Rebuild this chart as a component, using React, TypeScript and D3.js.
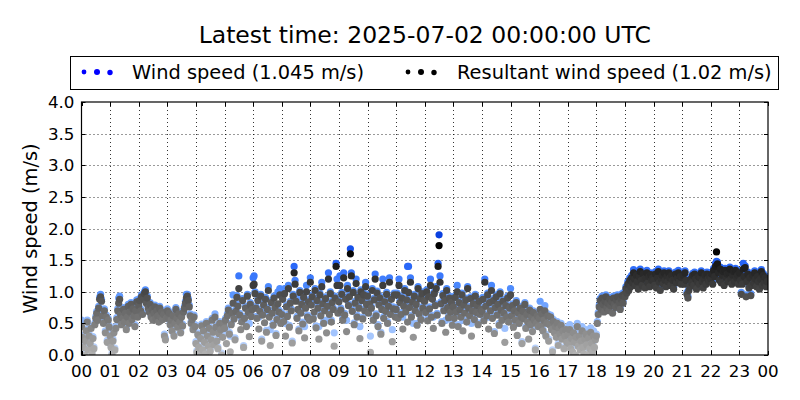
import React from "react";
import * as d3 from "d3";

const titleText = "Latest time: 2025-07-02 00:00:00 UTC";
const hourLabels = ["00","01","02","03","04","05","06","07","08","09","10","11","12","13","14","15","16","17","18","19","20","21","22","23","00"];
const yTicks = [0, 0.5, 1.0, 1.5, 2.0, 2.5, 3.0, 3.5, 4.0];
const windSpeedMean = 1.045;
const resultantMean = 1.02;

// 30 samples per hour (2-minute steps), hours 00..23
const windSpeed: number[][] = [
  [0.55,0.31,0.15,0.03,0.25,0.41,0.55,0.11,0.33,0.21,0.45,0.05,0.29,0.13,0.51,0.61,0.69,0.58,0.77,0.91,0.96,0.88,0.65,0.53,0.73,0.38,0.63,0.23,0.58,0.47],
  [0.33,0.15,0.03,0.25,0.38,0.11,0.45,0.59,0.73,0.9,0.93,0.67,0.51,0.61,0.75,0.55,0.69,0.43,0.63,0.8,0.53,0.71,0.83,0.59,0.76,0.65,0.48,0.73,0.87,0.63],
  [0.81,0.89,0.73,0.95,0.67,0.91,1.0,1.03,0.85,0.93,0.77,0.71,0.83,0.63,0.75,0.58,0.69,0.79,0.61,0.73,0.65,0.55,0.77,0.63,0.71,0.59,0.67,0.33,0.27,0.61],
  [0.73,0.63,0.69,0.51,0.58,0.41,0.65,0.33,0.53,0.75,0.61,0.47,0.68,0.55,0.38,0.63,0.49,0.71,0.77,0.85,0.96,0.96,0.89,0.79,0.65,0.53,0.59,0.43,0.63,0.48],
  [0.21,0.07,0.35,0.15,0.03,0.29,0.49,0.11,0.41,0.23,0.05,0.53,0.33,0.17,0.45,0.09,0.27,0.58,0.39,0.19,0.65,0.47,0.25,0.13,0.37,0.53,0.43,0.03,0.31,0.51],
  [0.45,0.58,0.4,0.65,0.74,0.36,0.3,0.51,0.69,0.95,0.6,0.27,0.72,0.94,0.8,1.25,0.66,0.6,0.55,0.89,0.15,0.61,0.77,0.48,0.96,0.7,0.5,0.83,0.64,0.75],
  [1.22,1.25,1.0,0.77,0.61,0.89,0.6,0.72,0.96,0.25,0.66,0.82,0.7,0.91,0.39,0.75,1.08,0.63,0.4,0.86,0.69,0.5,0.93,0.78,0.34,0.59,1.0,0.71,1.05,0.53],
  [0.67,0.91,0.56,1.05,0.5,0.79,0.64,1.1,0.47,0.85,0.73,0.22,0.96,1.4,1.18,0.88,0.61,0.9,0.41,1.02,0.69,0.83,0.52,0.94,0.45,0.77,1.1,0.63,0.87,0.58],
  [1.22,0.82,0.95,0.6,0.85,1.05,0.46,0.89,0.77,0.45,0.98,0.65,1.15,0.84,0.53,0.73,0.92,0.55,0.8,1.3,0.67,1.0,0.55,0.86,0.75,0.35,0.93,1.45,1.2,0.69],
  [0.87,1.25,0.74,0.99,0.58,1.3,0.66,0.91,0.55,1.1,0.81,0.95,1.68,1.3,0.72,1.02,0.51,0.85,1.2,0.63,0.94,0.77,0.45,1.03,0.89,0.6,0.98,0.73,1.15,0.83],
  [0.96,0.69,0.84,0.3,0.77,1.05,0.58,0.9,1.28,0.65,1.01,0.48,0.82,0.93,0.36,0.75,1.2,0.61,0.87,0.72,0.99,0.53,0.8,1.22,0.67,0.91,0.4,0.76,0.98,0.63],
  [0.75,0.98,0.61,1.2,0.86,0.67,0.93,0.6,0.8,1.05,0.71,0.9,1.4,1.4,0.78,1.22,0.63,0.87,0.5,0.96,0.73,0.83,0.5,1.08,0.68,0.92,0.59,1.0,0.77,0.89],
  [0.88,0.7,1.03,0.57,0.95,0.76,1.2,0.63,0.91,0.6,1.0,0.81,1.08,0.66,1.45,1.9,1.25,0.84,0.53,0.97,0.73,0.89,0.55,1.05,0.78,0.62,0.93,0.71,0.86,0.5],
  [0.79,0.61,0.94,0.71,1.1,0.48,0.86,0.75,0.63,0.98,0.55,0.82,0.69,0.9,0.55,1.08,0.77,0.65,0.92,0.5,0.73,0.84,0.59,0.96,0.7,0.81,0.51,0.88,0.67,0.75],
  [0.72,0.91,0.57,1.2,0.8,0.65,0.98,0.6,0.86,0.73,1.1,0.61,0.89,0.37,0.78,0.95,0.66,0.83,0.5,1.0,0.74,0.58,0.88,0.69,0.42,0.81,0.63,0.93,0.55,0.77],
  [1.05,0.65,0.81,0.47,0.73,0.58,0.86,0.5,0.69,0.53,0.77,0.63,0.21,0.72,0.6,0.83,0.45,0.67,0.55,0.45,0.74,0.51,0.63,0.4,0.7,0.58,0.11,0.53,0.65,0.48],
  [0.61,0.85,0.49,0.68,0.41,0.58,0.78,0.33,0.53,0.65,0.25,0.51,0.63,0.43,0.08,0.56,0.38,0.48,0.31,0.53,0.18,0.45,0.36,0.5,0.28,0.41,0.13,0.33,0.43,0.23],
  [0.4,0.28,0.48,0.22,0.35,0.18,0.42,0.3,0.15,0.36,0.5,0.25,0.38,0.2,0.3,0.45,0.24,0.15,0.33,0.4,0.26,0.12,0.35,0.22,0.43,0.28,0.18,0.38,0.24,0.32],
  [0.33,0.53,0.67,0.79,0.89,0.75,0.93,0.83,0.71,0.88,0.95,0.77,0.85,0.73,0.91,0.81,0.87,0.69,0.93,0.83,0.78,0.9,0.95,0.81,0.86,0.75,0.91,0.97,0.85,0.99],
  [0.95,1.08,1.0,1.16,1.05,1.22,1.1,1.26,1.17,1.35,1.22,1.13,1.3,1.18,1.07,1.27,1.36,1.2,1.13,1.31,1.23,1.09,1.25,1.34,1.17,1.27,1.11,1.3,1.2,1.25],
  [1.21,1.13,1.32,1.09,1.25,1.36,1.18,1.05,1.23,1.3,1.15,1.33,1.21,1.11,1.27,1.19,1.33,1.25,1.13,1.29,1.21,1.07,1.23,1.31,1.17,1.25,1.34,1.19,1.27,1.15],
  [1.25,1.29,1.15,1.33,1.21,0.99,0.93,1.05,1.11,1.23,1.17,1.29,1.13,1.31,1.23,1.07,1.19,1.27,1.15,1.25,1.33,1.19,1.09,1.23,1.29,1.15,1.31,1.23,1.19,1.27],
  [1.23,1.31,1.15,1.37,1.27,1.45,1.48,1.47,1.33,1.21,1.39,1.17,1.29,1.35,1.13,1.37,1.25,1.31,1.19,1.33,1.39,1.23,1.15,1.29,1.35,1.19,1.37,1.25,1.29,1.15],
  [1.33,1.21,0.99,1.15,1.45,1.27,1.41,0.95,1.19,1.31,1.09,1.25,0.97,1.13,1.29,1.17,1.33,1.23,1.11,1.27,1.19,1.07,1.23,1.35,1.13,1.29,1.17,1.25,1.11,1.19],
];

const resultant: number[][] = [
  [0.45,0.28,0.12,0.0,0.22,0.38,0.52,0.08,0.3,0.18,0.42,0.02,0.26,0.1,0.48,0.58,0.66,0.55,0.74,0.88,0.92,0.85,0.62,0.5,0.7,0.35,0.6,0.2,0.55,0.44],
  [0.3,0.12,0.0,0.22,0.35,0.08,0.42,0.56,0.7,0.82,0.88,0.64,0.48,0.58,0.72,0.52,0.66,0.4,0.6,0.77,0.5,0.68,0.8,0.56,0.73,0.62,0.45,0.7,0.84,0.6],
  [0.78,0.86,0.7,0.92,0.64,0.88,0.97,1.0,0.82,0.9,0.74,0.68,0.8,0.6,0.72,0.55,0.66,0.76,0.58,0.7,0.62,0.52,0.74,0.6,0.68,0.56,0.64,0.3,0.24,0.58],
  [0.7,0.6,0.66,0.48,0.55,0.38,0.62,0.3,0.5,0.72,0.58,0.44,0.65,0.52,0.35,0.6,0.46,0.68,0.74,0.82,0.9,0.93,0.86,0.76,0.62,0.5,0.56,0.4,0.6,0.45],
  [0.18,0.04,0.32,0.12,0.0,0.26,0.46,0.08,0.38,0.2,0.02,0.5,0.3,0.14,0.42,0.06,0.24,0.55,0.36,0.16,0.6,0.44,0.22,0.1,0.34,0.5,0.4,0.0,0.28,0.48],
  [0.42,0.55,0.18,0.62,0.71,0.33,0.05,0.48,0.66,0.82,0.57,0.24,0.69,0.91,0.77,1.05,0.63,0.4,0.52,0.86,0.12,0.58,0.74,0.45,0.93,0.67,0.29,0.8,0.61,0.72],
  [1.1,1.12,0.97,0.74,0.58,0.86,0.41,0.69,0.93,0.22,0.63,0.79,0.51,0.88,0.36,0.72,1.02,0.6,0.15,0.83,0.66,0.47,0.9,0.75,0.31,0.56,0.81,0.68,0.95,0.5],
  [0.64,0.88,0.53,0.97,0.3,0.76,0.61,1.05,0.44,0.82,0.7,0.19,0.93,1.3,1.12,0.85,0.58,0.72,0.38,0.99,0.66,0.8,0.49,0.91,0.27,0.74,1.0,0.6,0.84,0.55],
  [1.15,0.79,0.92,0.57,0.68,1.02,0.43,0.86,0.74,0.25,0.95,0.62,1.08,0.81,0.5,0.7,0.89,0.35,0.77,1.2,0.64,0.97,0.52,0.83,0.72,0.14,0.9,1.4,1.1,0.66],
  [0.84,1.1,0.71,0.96,0.55,1.22,0.63,0.88,0.37,1.05,0.78,0.92,1.6,1.25,0.69,0.99,0.48,0.82,1.13,0.6,0.91,0.74,0.26,1.0,0.86,0.57,0.95,0.7,1.08,0.8],
  [0.93,0.66,0.81,0.04,0.74,1.02,0.55,0.87,1.2,0.62,0.98,0.45,0.79,0.9,0.33,0.72,1.1,0.58,0.84,0.69,0.96,0.5,0.77,1.15,0.64,0.88,0.21,0.73,0.95,0.6],
  [0.72,0.95,0.58,1.1,0.83,0.64,0.9,0.41,0.77,1.02,0.68,0.87,0.52,0.99,0.75,1.15,0.6,0.84,0.28,0.93,0.7,0.8,0.47,1.05,0.65,0.89,0.56,0.97,0.74,0.86],
  [0.85,0.67,1.0,0.54,0.92,0.73,1.1,0.6,0.88,0.42,0.97,0.78,1.05,0.63,1.4,1.73,1.15,0.81,0.5,0.94,0.7,0.86,0.36,1.02,0.75,0.59,0.9,0.68,0.83,0.47],
  [0.76,0.58,0.91,0.68,1.0,0.45,0.83,0.72,0.6,0.95,0.38,0.79,0.66,0.87,0.52,1.05,0.74,0.62,0.89,0.3,0.7,0.81,0.56,0.93,0.67,0.78,0.48,0.85,0.64,0.72],
  [0.69,0.88,0.54,1.15,0.77,0.62,0.95,0.41,0.83,0.7,1.02,0.58,0.86,0.34,0.75,0.92,0.63,0.8,0.47,0.97,0.71,0.55,0.85,0.66,0.2,0.78,0.6,0.9,0.52,0.74],
  [0.95,0.62,0.78,0.44,0.7,0.55,0.83,0.31,0.66,0.5,0.74,0.6,0.18,0.69,0.57,0.8,0.42,0.64,0.52,0.25,0.71,0.48,0.6,0.37,0.67,0.55,0.08,0.5,0.62,0.45],
  [0.58,0.72,0.46,0.65,0.38,0.55,0.7,0.3,0.5,0.62,0.22,0.48,0.6,0.4,0.05,0.53,0.35,0.45,0.28,0.5,0.15,0.42,0.33,0.47,0.25,0.38,0.1,0.3,0.4,0.2],
  [0.32,0.18,0.4,0.1,0.26,0.05,0.35,0.2,0.0,0.28,0.45,0.14,0.3,0.08,0.22,0.38,0.12,0.02,0.25,0.33,0.16,0.0,0.27,0.1,0.36,0.19,0.05,0.3,0.12,0.24],
  [0.3,0.5,0.64,0.76,0.86,0.72,0.9,0.8,0.68,0.85,0.92,0.74,0.82,0.7,0.88,0.78,0.84,0.66,0.9,0.8,0.75,0.87,0.92,0.78,0.83,0.72,0.88,0.94,0.82,0.96],
  [0.92,1.05,0.98,1.12,1.02,1.18,1.08,1.22,1.14,1.3,1.2,1.1,1.26,1.16,1.04,1.24,1.32,1.18,1.1,1.28,1.2,1.06,1.22,1.3,1.14,1.24,1.08,1.27,1.18,1.22],
  [1.18,1.1,1.28,1.06,1.22,1.32,1.15,1.02,1.2,1.26,1.12,1.3,1.18,1.08,1.24,1.16,1.3,1.22,1.1,1.26,1.18,1.04,1.2,1.28,1.14,1.22,1.3,1.16,1.24,1.12],
  [1.22,1.26,1.12,1.3,1.18,0.96,0.9,1.02,1.08,1.2,1.14,1.26,1.1,1.28,1.2,1.04,1.16,1.24,1.12,1.22,1.3,1.16,1.06,1.2,1.26,1.12,1.28,1.2,1.16,1.24],
  [1.2,1.28,1.12,1.34,1.24,1.4,1.63,1.44,1.3,1.18,1.36,1.14,1.26,1.32,1.1,1.34,1.22,1.28,1.16,1.3,1.36,1.2,1.12,1.26,1.32,1.16,1.34,1.22,1.26,1.12],
  [1.3,1.18,0.96,1.12,1.36,1.24,1.38,0.92,1.16,1.28,1.06,1.22,0.94,1.1,1.26,1.14,1.3,1.2,1.08,1.24,1.16,1.04,1.2,1.32,1.1,1.26,1.14,1.22,1.08,1.16],
];

const W = 800, H = 400;
const left = 81.5, right = 768, top = 102, bottom = 355;

const x = d3.scaleLinear().domain([0, 24]).range([left, right]);
const y = d3.scaleLinear().domain([0, 4]).range([bottom, top]);

const grayColor = (v: number) => {
  const a = Math.min(1, 0.3 + 0.42 * v);
  const g = Math.round(255 * (1 - a));
  return d3.rgb(g, g, g).formatHex();
};
const blueColor = d3.scaleLinear<string>()
  .domain([0, 0.5, 1.0, 1.4, 1.9])
  .range(["#c4d8fb", "#94bcff", "#5592ff", "#2a68f8", "#0a40e0"])
  .interpolate(d3.interpolateRgb)
  .clamp(true);

function toPoints(series: number[][]) {
  const pts: { t: number; v: number }[] = [];
  series.forEach((hour, h) => {
    hour.forEach((v, i) => pts.push({ t: h + i / hour.length, v }));
  });
  return pts;
}

export default function App() {
  const wsPts = toPoints(windSpeed);
  const rsPts = toPoints(resultant);
  const font = "DejaVu Sans, sans-serif";
  const hours = d3.range(0, 25);
  return (
    <svg width={W} height={H} style={{ position: "absolute", left: 0, top: 0, background: "#fff" }} fontFamily={font}>
      <rect x={0} y={0} width={W} height={H} fill="#fff" />
      <text x={(left + right) / 2} y={43} textAnchor="middle" fontSize={23.5} fill="#000">{titleText}</text>

      <defs>
        <clipPath id="plotclip">
          <rect x={left} y={top} width={right - left} height={bottom - top} />
        </clipPath>
      </defs>

      {/* grid */}
      <g stroke="#000" strokeWidth={0.8} strokeDasharray="1,3">
        {hours.slice(1, 24).map((h) => (
          <line key={"gx" + h} x1={Math.round(x(h)) + 0.5} x2={Math.round(x(h)) + 0.5} y1={top} y2={bottom} />
        ))}
        {yTicks.slice(1, -1).map((v) => (
          <line key={"gy" + v} x1={left} x2={right} y1={Math.round(y(v)) + 0.5} y2={Math.round(y(v)) + 0.5} />
        ))}
      </g>

      <g clipPath="url(#plotclip)">
        {wsPts.map((p, i) => (
          <circle key={"w" + i} cx={x(p.t)} cy={y(p.v)} r={3.6} fill={blueColor(p.v)} />
        ))}
        {rsPts.map((p, i) => (
          <circle key={"r" + i} cx={x(p.t)} cy={y(p.v)} r={3.6} fill={grayColor(p.v)} />
        ))}
      </g>

      {/* ticks inward */}
      <g stroke="#000" strokeWidth={1}>
        {hours.map((h) => (
          <g key={"tx" + h}>
            <line x1={Math.round(x(h)) + 0.5} x2={Math.round(x(h)) + 0.5} y1={bottom} y2={bottom - 4} />
            <line x1={Math.round(x(h)) + 0.5} x2={Math.round(x(h)) + 0.5} y1={top} y2={top + 4} />
          </g>
        ))}
        {yTicks.map((v) => (
          <g key={"ty" + v}>
            <line x1={left} x2={left + 4} y1={Math.round(y(v)) + 0.5} y2={Math.round(y(v)) + 0.5} />
            <line x1={right} x2={right - 4} y1={Math.round(y(v)) + 0.5} y2={Math.round(y(v)) + 0.5} />
          </g>
        ))}
      </g>
      <rect x={left} y={top} width={right - left} height={bottom - top} fill="none" stroke="#000" strokeWidth={1.2} />

      {/* tick labels */}
      <g fontSize={16.7} fill="#000">
        {hourLabels.map((lab, i) => (
          <text key={"lx" + i} x={x(i)} y={377} textAnchor="middle">{lab}</text>
        ))}
        {yTicks.map((v) => (
          <text key={"ly" + v} x={left - 7} y={y(v) + 6} textAnchor="end">{v.toFixed(1)}</text>
        ))}
      </g>

      <text transform={`translate(37,${(top + bottom) / 2}) rotate(-90)`} textAnchor="middle" fontSize={19.4} fill="#000">Wind speed (m/s)</text>

      {/* legend */}
      <rect x={70.5} y={56.5} width={708} height={33} fill="#fff" stroke="#000" strokeWidth={1} />
      <circle cx={84} cy={72} r={2.4} fill="#0000ff" />
      <circle cx={97} cy={72} r={3} fill="#0000ff" />
      <circle cx={110} cy={72.5} r={2.7} fill="#0000ff" />
      <text x={132} y={79} fontSize={19.4} fill="#000">{`Wind speed (${windSpeedMean} m/s)`}</text>
      <circle cx={408} cy={72} r={2.4} fill="#000" />
      <circle cx={421} cy={72} r={3} fill="#000" />
      <circle cx={434} cy={72.5} r={2.7} fill="#000" />
      <text x={457} y={79} fontSize={19.4} fill="#000">{`Resultant wind speed (${resultantMean} m/s)`}</text>
    </svg>
  );
}
